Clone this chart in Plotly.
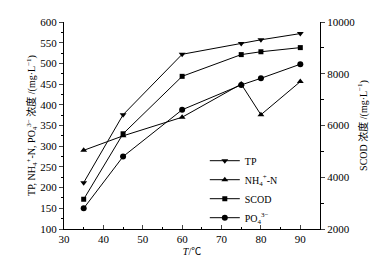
import plotly.graph_objects as go

T = [35, 45, 60, 75, 80, 90]
tp = [212, 376, 522, 548, 557, 572]
nh4 = [290, 325, 370, 450, 376, 456]
scod = [3150, 5680, 7900, 8740, 8850, 9010]
po4 = [150, 275, 388, 448, 464, 498]

FONT = "Liberation Serif, Times New Roman, Noto Sans CJK SC, serif"

fig = go.Figure()
common = dict(mode="lines+markers", line=dict(color="black", width=1))
fig.add_trace(go.Scatter(x=T, y=tp, name="TP", marker=dict(symbol="triangle-down", size=6, color="black"), **common))
fig.add_trace(go.Scatter(x=T, y=nh4, name="NH<sub>4</sub><sup>+</sup>-N", marker=dict(symbol="triangle-up", size=6, color="black"), **common))
fig.add_trace(go.Scatter(x=T, y=scod, name="SCOD", yaxis="y2", marker=dict(symbol="square", size=5, color="black"), **common))
fig.add_trace(go.Scatter(x=T, y=po4, name="PO<sub>4</sub><sup>3−</sup>", marker=dict(symbol="circle", size=6, color="black"), **common))

fig.update_layout(
    width=385, height=258,
    margin=dict(l=56, r=73, t=14, b=37, autoexpand=False),
    paper_bgcolor="white", plot_bgcolor="white",
    font=dict(family=FONT, size=10, color="black"),
    showlegend=True,
    legend=dict(x=0.55, y=0.40, xanchor="left", yanchor="top", bgcolor="rgba(0,0,0,0)",
                font=dict(size=10), tracegroupgap=0, itemwidth=30),
    xaxis=dict(range=[30, 95], dtick=10, tick0=30, ticks="inside", ticklen=4,
               tickfont=dict(size=11), automargin=False,
               showline=True, linecolor="black", linewidth=1, showgrid=False, zeroline=False,
               minor=dict(dtick=5, ticks="inside", ticklen=2, tickcolor="black"),
               title=dict(text="<i>T</i>/℃", standoff=3, font=dict(size=10))),
    yaxis=dict(range=[100, 600], dtick=50, tick0=100, ticks="outside", ticklen=4,
               tickfont=dict(size=11), automargin=False,
               showline=True, linecolor="black", linewidth=1, showgrid=False, zeroline=False,
               minor=dict(dtick=25, ticks="outside", ticklen=2, tickcolor="black"),
               title=dict(text="TP, NH<sub>4</sub><sup>+</sup>-N, PO<sub>4</sub><sup>3−</sup> 浓度 /(mg·L<sup>−1</sup>)",
                          standoff=2, font=dict(size=10))),
    yaxis2=dict(range=[2000, 10000], dtick=2000, tick0=2000, overlaying="y", side="right",
                tickformat="d", exponentformat="none", tickfont=dict(size=11), automargin=False,
                ticks="outside", ticklen=4, showline=True, linecolor="black", linewidth=1,
                showgrid=False, zeroline=False,
                minor=dict(dtick=1000, ticks="outside", ticklen=3, tickcolor="black"),
                title=dict(text="SCOD 浓度 /(mg·L<sup>−1</sup>)", standoff=5, font=dict(size=10))),
)

fig.write_html("out.html")
